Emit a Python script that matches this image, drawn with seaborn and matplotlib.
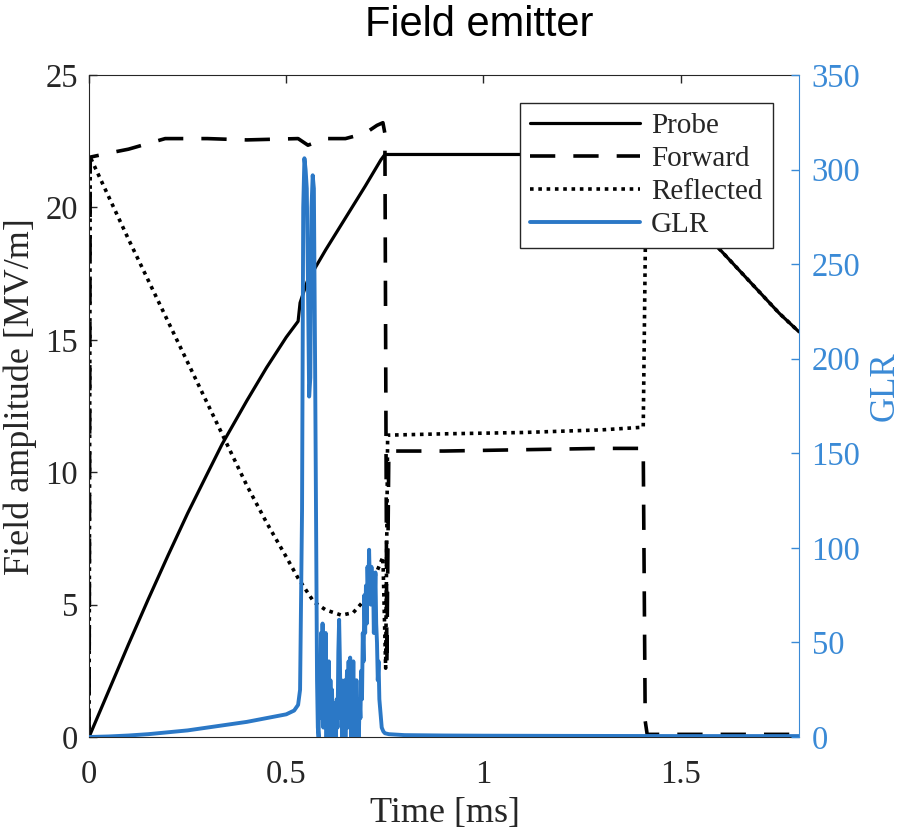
import seaborn as sns
import matplotlib
matplotlib.use("Agg")
import matplotlib.pyplot as plt
from matplotlib.lines import Line2D

# ---- data ----
probe_t = [0, 0.05, 0.1, 0.15, 0.2, 0.25, 0.3, 0.337, 0.4, 0.45, 0.5, 0.53, 0.535, 0.553,
           0.6, 0.65, 0.7, 0.72, 0.74, 0.75, 0.8, 1.0, 1.2, 1.41, 1.45, 1.5,
           1.55, 1.6, 1.65, 1.7, 1.75, 1.8]
probe_v = [0, 1.75, 3.5, 5.2, 6.85, 8.45, 9.95, 11.05, 12.7, 13.95, 15.1, 15.7, 16.4, 17.2,
           18.4, 19.6, 20.8, 21.3, 21.8, 22.0, 22.0, 22.0, 22.0, 21.9, 21.1, 20.2,
           19.2, 18.4, 17.6, 16.8, 16.0, 15.3]

fwd_t = [0, 0.003, 0.066, 0.1, 0.193, 0.3, 0.4, 0.53, 0.555, 0.6, 0.65, 0.7, 0.73,
         0.745, 0.75, 0.755, 0.76, 0.9, 1.1, 1.3, 1.405, 1.41, 1.415, 1.5, 1.8]
fwd_v = [0, 21.9, 22.1, 22.2, 22.6, 22.6, 22.55, 22.6, 22.35, 22.6, 22.6, 22.8, 23.1,
         23.2, 22.8, 2.7, 10.8, 10.8, 10.85, 10.9, 10.9, 0.6, 0.1, 0.1, 0.1]

refl_t = [0, 0.003, 0.1, 0.2, 0.3, 0.4, 0.45, 0.5, 0.53, 0.57, 0.6, 0.64, 0.67,
          0.7, 0.72, 0.745, 0.752, 0.757, 0.9, 1.1, 1.3, 1.405, 1.413, 1.45, 1.5, 1.55,
          1.6, 1.65, 1.7, 1.75, 1.8]
refl_v = [0, 21.9, 18.8, 15.7, 12.6, 9.5, 8.1, 6.8, 6.0, 5.1, 4.8, 4.6, 4.7,
          5.2, 5.9, 6.8, 2.6, 11.4, 11.45, 11.5, 11.6, 11.7, 22.0, 21.1, 20.2, 19.2,
          18.4, 17.6, 16.8, 16.0, 15.3]

glr_t = [0, 0.05, 0.1, 0.15, 0.2, 0.25, 0.3, 0.35, 0.4, 0.45, 0.5, 0.52, 0.53, 0.535,
         0.54, 0.543, 0.546, 0.549, 0.552, 0.555, 0.558, 0.561, 0.564, 0.567, 0.570,
         0.573, 0.576, 0.578,
         0.580, 0.582, 0.584, 0.586, 0.588, 0.590, 0.592, 0.594, 0.596, 0.598,
         0.600, 0.602, 0.604, 0.606, 0.608, 0.610, 0.612, 0.614, 0.616, 0.618,
         0.620, 0.622, 0.624, 0.626, 0.628, 0.630, 0.632, 0.634, 0.636, 0.638,
         0.640, 0.642, 0.644, 0.646, 0.648, 0.650, 0.652, 0.654, 0.656, 0.658,
         0.660, 0.662, 0.664, 0.666, 0.668, 0.670, 0.672, 0.674, 0.676, 0.678,
         0.680, 0.682, 0.684, 0.686, 0.688, 0.690, 0.692, 0.694, 0.696, 0.698,
         0.700, 0.702, 0.704, 0.706, 0.708, 0.710, 0.712, 0.714, 0.716, 0.718,
         0.720, 0.722, 0.724, 0.726, 0.728, 0.730, 0.732, 0.734, 0.736, 0.738,
         0.742, 0.746, 0.75, 0.76, 0.8, 0.9, 1.0, 1.2, 1.5, 1.8]
glr_v = [0, 0.3, 0.8, 1.5, 2.5, 3.5, 5, 6.5, 8, 10, 12, 14, 17, 25,
         120, 280, 306, 300, 290, 240, 180, 190, 280, 297, 290,
         200, 100, 30,
         5, 0, 40, 10, 55, 15, 60, 5, 45, 20,
         55, 0, 35, 10, 40, 0, 30, 5, 25, 0,
         18, 0, 12, 0, 20, 5, 45, 62, 40, 10,
         30, 0, 25, 5, 30, 0, 20, 35, 5, 40,
         10, 42, 0, 30, 5, 40, 0, 25, 5, 30,
         0, 15, 0, 20, 10, 35, 20, 55, 40, 75,
         55, 80, 60, 90, 75, 99, 80, 70, 90, 75,
         85, 55, 70, 87, 60, 50, 30, 40, 20, 15,
         5, 3, 2, 1.5, 1, 0.8, 0.7, 0.6, 0.5, 0.5]

blue = "#2b78c6"
axis_blue = "#3a8ad6"
dark = "#262626"

sns.set_style("white")
plt.rcParams["font.family"] = ["Liberation Serif", "DejaVu Serif"]

fig = plt.figure(figsize=(9.04, 8.31), dpi=100)
ax = fig.add_axes([0.0985, 0.1131, 0.7854, 0.7966])
ax2 = ax.twinx()

dash = (0, (7, 5))
dot = (0, (1, 1.3))

sns.lineplot(x=probe_t, y=probe_v, ax=ax, color="black", lw=2.3, sort=False, estimator=None)
sns.lineplot(x=fwd_t, y=fwd_v, ax=ax, color="black", lw=2.6, sort=False, estimator=None,
             linestyle=dash)
sns.lineplot(x=refl_t, y=refl_v, ax=ax, color="black", lw=2.6, sort=False, estimator=None,
             linestyle=dot)
sns.lineplot(x=glr_t, y=glr_v, ax=ax2, color=blue, lw=2.8, sort=False, estimator=None)

ax.set_xlim(0, 1.8)
ax.set_ylim(0, 25)
ax2.set_ylim(0, 350)
ax.set_xticks([0, 0.5, 1, 1.5])
ax.set_xticklabels(["0", "0.5", "1", "1.5"])
ax.set_yticks([0, 5, 10, 15, 20, 25])
ax2.set_yticks([0, 50, 100, 150, 200, 250, 300, 350])

ax.tick_params(axis="both", direction="in", length=6, width=1, labelsize=23.5,
               colors=dark, top=True, right=False)
ax.tick_params(axis="x", pad=16)
ax.tick_params(axis="y", pad=8)
ax2.tick_params(axis="y", direction="in", length=6, width=1, labelsize=23.5,
                colors=axis_blue, pad=9)
for s in ["left", "top", "bottom"]:
    ax.spines[s].set_color(dark)
ax.spines["right"].set_visible(False)
for s in ["left", "top", "bottom"]:
    ax2.spines[s].set_visible(False)
ax2.spines["right"].set_color(axis_blue)

ax.set_xlabel("Time [ms]", fontsize=26, color=dark)
ax.set_ylabel("Field amplitude [MV/m]", fontsize=26, color=dark)
ax2.set_ylabel("GLR", fontsize=25, color=axis_blue)
ax.xaxis.set_label_coords(0.501, -0.09)
ax.yaxis.set_label_coords(-0.074, 0.514)
ax2.yaxis.set_label_coords(1.098, 0.53)

fig.text(0.53, 1 - 36 / 831, "Field emitter", fontsize=30, family="Liberation Sans",
         ha="center", va="baseline", color="black")

handles = [
    Line2D([], [], color="black", lw=2.3),
    Line2D([], [], color="black", lw=2.6, linestyle=dash),
    Line2D([], [], color="black", lw=2.6, linestyle=dot),
    Line2D([], [], color=blue, lw=2.8),
]
leg = ax2.legend(handles, ["Probe", "Forward", "Reflected", "GLR"], loc="upper right",
                 bbox_to_anchor=(0.963, 0.958), fontsize=21, frameon=True, fancybox=False,
                 framealpha=1, edgecolor=dark, handlelength=3.75, handletextpad=0.4,
                 borderaxespad=0, labelspacing=0.22, borderpad=0.35)
leg.get_frame().set_linewidth(1)

plt.savefig("out.png", dpi=100)
